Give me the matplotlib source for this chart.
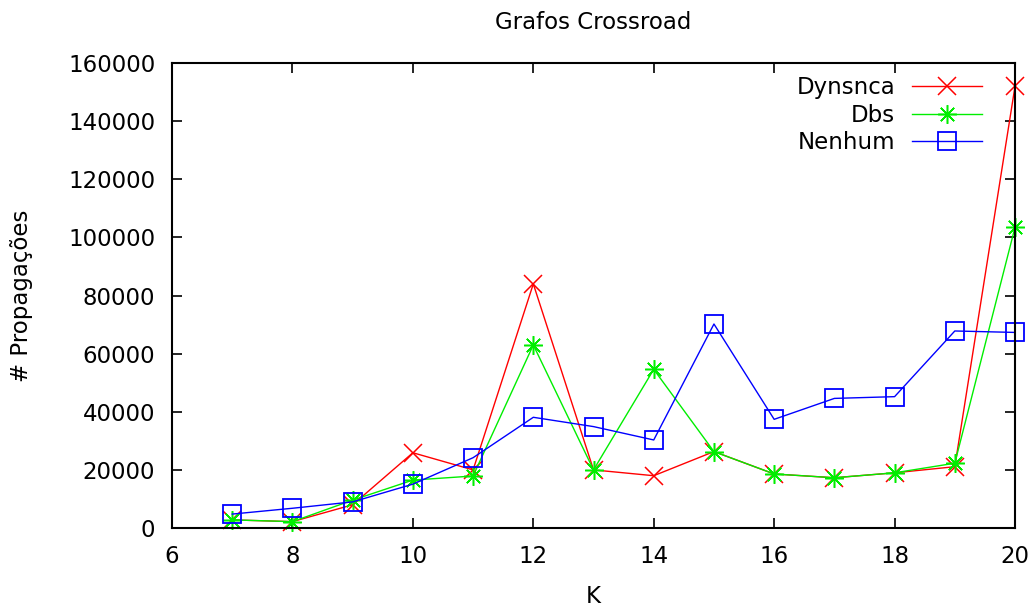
import matplotlib.pyplot as plt

# data
k = [7, 8, 9, 10, 11, 12, 13, 14, 15, 16, 17, 18, 19, 20]
dynsnca = [2800, 2200, 8000, 25900, 20000, 84000, 20000, 18000,
           26300, 18600, 17300, 19000, 21100, 152000]
dbs = [2800, 2200, 9600, 16500, 17900, 63000, 20000, 54600,
       26300, 18600, 17300, 19000, 22300, 103500]
nenhum = [4800, 6800, 9000, 15100, 24200, 38100, 34900, 30300,
          70200, 37400, 44600, 45200, 67800, 67300]

plt.rcParams["font.family"] = "DejaVu Sans"
plt.rcParams["font.size"] = 16.5

fig = plt.figure(figsize=(10.35, 6.07), dpi=100)
ax = fig.add_axes([0.1662, 0.1301, 0.8145, 0.7661])

ax.plot(k, dynsnca, color="#ff0000", lw=1.0, marker="x", ms=13, mew=1.1,
        label="Dynsnca", clip_on=False)
ax.plot(k, dbs, color="#00ee00", lw=1.0, marker=(8, 2, 0), ms=13.5, mew=1.1,
        label="Dbs", clip_on=False)
ax.plot(k, nenhum, color="#0000ff", lw=1.0, marker="s", ms=13, mew=1.3,
        mfc="none", label="Nenhum", clip_on=False)

ax.set_xlim(6, 20)
ax.set_ylim(0, 160000)
ax.set_xticks(range(6, 21, 2))
ax.set_yticks(range(0, 160001, 20000))

ax.tick_params(direction="in", length=7, width=1.2, top=True, right=True, pad=12)
for s in ax.spines.values():
    s.set_linewidth(1.5)

ax.set_title("Grafos Crossroad", fontsize=16.5, y=1.088, pad=0, va="center")
ax.set_xlabel("K", va="center")
ax.xaxis.set_label_coords(0.5, -0.148)
ax.set_ylabel("# Propagações", va="center")
ax.yaxis.set_label_coords(-0.178, 0.5)

leg = ax.legend(loc="upper right", bbox_to_anchor=(0.961, 0.972),
                frameon=False, markerfirst=False,
                handlelength=3.05, handletextpad=0.75, labelspacing=0.2,
                borderaxespad=0, borderpad=0, fontsize=16.5)

fig.savefig("out.png", dpi=100)
